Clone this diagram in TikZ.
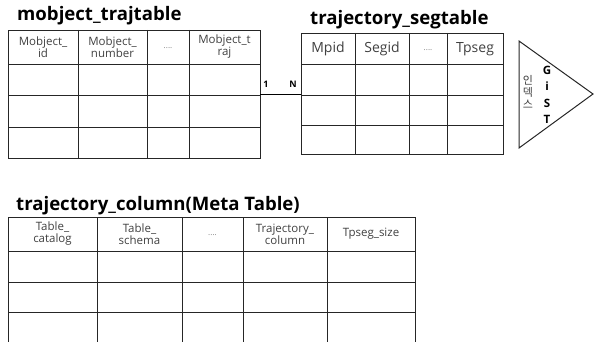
\documentclass[tikz,border=0pt]{standalone}
\usepackage{fontspec}
\setmainfont{Open Sans}
\newfontfamily\kofont{Noto Sans CJK KR}
\begin{document}
\begin{tikzpicture}[x=1pt, y=-1pt,
	grid/.style={line width=0.8pt, black!85},
	tabtitle/.style={anchor=base west, inner sep=0pt, font=\fontsize{18.6}{20}\selectfont\bfseries},
	head/.style={align=center, inner sep=0pt, text=black!75, font=\fontsize{11.5}{12}\selectfont},
	bighead/.style={head, font=\fontsize{14}{15}\selectfont},
	dots/.style={inner sep=0pt, text=black!50, font=\fontsize{8}{9}\selectfont},
	card/.style={inner sep=0pt, font=\fontsize{9}{10}\selectfont\bfseries}]

	\useasboundingbox (0, 0) rectangle (594, 342);
	\clip (0, 0) rectangle (594, 342);

	% mobject_trajtable
	\node [tabtitle] (t1title) at (17, 21) {mobject\_trajtable};
	\draw [grid] (8, 30) rectangle (260, 158);
	\foreach \x in {78, 147, 189}
		\draw [grid] (\x, 30) -- (\x, 158);
	\foreach \y in {64, 95, 127}
		\draw [grid] (8, \y) -- (260, \y);
	\node [head] (t1h1) at (43, 47) {Mobject\_\\id};
	\node [head] (t1h2) at (112.5, 47) {Mobject\_\\number};
	\node [dots] (t1h3) at (168, 48) {....};
	\node [head] (t1h4) at (224.5, 47) {Mobject\_t\\raj};
	\coordinate (t1r) at (260, 94);

	% trajectory_segtable
	\node [tabtitle] (t2title) at (310, 25) {trajectory\_segtable};
	\draw [grid] (301, 33) rectangle (503, 154);
	\foreach \x in {355, 409, 447}
		\draw [grid] (\x, 33) -- (\x, 154);
	\foreach \y in {64, 95, 125}
		\draw [grid] (301, \y) -- (503, \y);
	\node [bighead] (t2h1) at (328, 49) {Mpid};
	\node [bighead] (t2h2) at (382, 49) {Segid};
	\node [dots] (t2h3) at (428, 50) {....};
	\node [bighead] (t2h4) at (475, 49) {Tpseg};
	\coordinate (t2l) at (301, 94);

	% 1 : N
	\draw [line width=0.5pt] (t1r) -- (t2l);
	\node [card] (one) at (266, 84) {1};
	\node [card] (many) at (293, 84) {N};

	% GiST index
	\coordinate (g1) at (519, 41);
	\coordinate (g2) at (593, 94);
	\coordinate (g3) at (519, 148);
	\draw [grid, line width=1pt] (g1) -- (g2) -- (g3) -- cycle;
	\node [align=center, inner sep=0pt, text=black!75, font=\kofont\fontsize{11}{12}\selectfont] (idx) at (528, 92) {인\\덱\\스};
	\node [align=center, inner sep=0pt, font=\fontsize{11.5}{16.5}\selectfont\bfseries] (gist) at (547, 95) {G\\i\\S\\T};

	% trajectory_column(Meta Table)
	\node [tabtitle] (t3title) at (16, 210) {trajectory\_column(Meta Table)};
	\draw [grid] (8, 342) -- (8, 217) -- (415, 217) -- (415, 342);
	\foreach \x in {97, 182, 243, 327}
		\draw [grid] (\x, 217) -- (\x, 342);
	\foreach \y in {251, 282, 312}
		\draw [grid] (8, \y) -- (415, \y);
	\node [head] (t3h1) at (52.5, 234) {Table\_\\catalog};
	\node [head] (t3h2) at (139.5, 234) {Table\_\\schema};
	\node [dots] (t3h3) at (212.5, 235) {....};
	\node [head] (t3h4) at (285, 234) {Trajectory\_\\column};
	\node [head] (t3h5) at (371, 234) {Tpseg\_size};

\end{tikzpicture}
\end{document}
